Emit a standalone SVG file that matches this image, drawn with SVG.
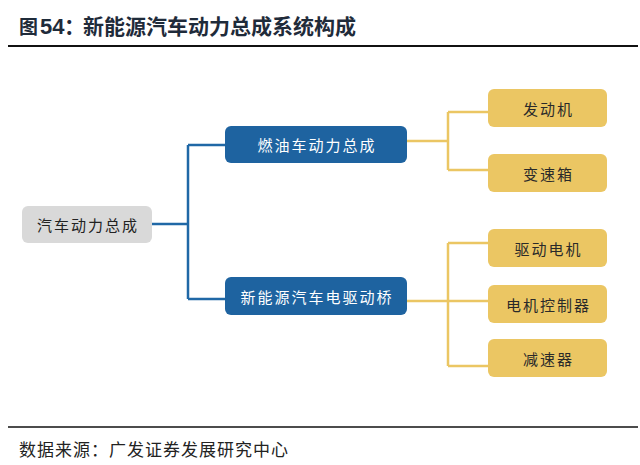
<svg xmlns="http://www.w3.org/2000/svg" width="640" height="465" viewBox="0 0 640 465">
<style>
.cjk{font-family:"Noto Sans CJK SC","Noto Sans",sans-serif;}
.lbl{font-size:15px;letter-spacing:2px;text-anchor:middle;dominant-baseline:central;}
.root rect{fill:#d9d9d9;}
.root text{fill:#222;}
.blue rect{fill:#1e63a0;}
.blue text{fill:#fff;}
.gold rect{fill:#ebc663;}
.gold text{fill:#2a2a2a;}
.cb{fill:none;stroke:#2068a6;stroke-width:2.5;}
.cg{fill:none;stroke:#ebc663;stroke-width:2.5;}
</style>
<rect width="640" height="465" fill="#fff"/>
<g id="title">
<text class="cjk" x="19" y="34" font-size="19" font-weight="bold" fill="#1f2b3a">图</text>
<text x="40" y="34" font-family="Liberation Sans,Arial,sans-serif" font-size="22" font-weight="bold" fill="#1f2b3a">54</text>
<text class="cjk" x="64" y="34" font-size="21" font-weight="bold" fill="#1f2b3a">：</text>
<text class="cjk" x="83" y="34" font-size="21" font-weight="bold" fill="#1f2b3a">新能源汽车动力总成系统构成</text>
</g>
<line x1="8" y1="46" x2="638" y2="46" stroke="#111" stroke-width="2"/>
<g id="connectors">
<path class="cb" d="M152 224 H188 M188 145 V299 M188 145 H226 M188 299 H226"/>
<path class="cg" d="M407 141 H448 M448 112 V170 M448 112 H489 M448 170 H489"/>
<path class="cg" d="M407 301 H448 M448 243 V366 M448 243 H489 M448 301 H489 M448 366 H489"/>
</g>
<g id="root" class="root">
<rect x="22" y="206" width="130" height="37" rx="6"/>
<text class="cjk lbl" x="88" y="224.5">汽车动力总成</text>
</g>
<g id="ice" class="blue">
<rect x="225" y="126" width="182" height="37" rx="6"/>
<text class="cjk lbl" x="317" y="144.5">燃油车动力总成</text>
</g>
<g id="nev" class="blue">
<rect x="225" y="277" width="182" height="38" rx="6"/>
<text class="cjk lbl" x="317" y="296">新能源汽车电驱动桥</text>
</g>
<g id="engine" class="gold">
<rect x="488" y="89" width="119" height="38" rx="6"/>
<text class="cjk lbl" x="548.5" y="108">发动机</text>
</g>
<g id="gearbox" class="gold">
<rect x="488" y="154" width="119" height="38" rx="6"/>
<text class="cjk lbl" x="548.5" y="173">变速箱</text>
</g>
<g id="motor" class="gold">
<rect x="488" y="229" width="119" height="38" rx="6"/>
<text class="cjk lbl" x="548.5" y="248">驱动电机</text>
</g>
<g id="controller" class="gold">
<rect x="488" y="285" width="119" height="38" rx="6"/>
<text class="cjk lbl" x="548.5" y="304">电机控制器</text>
</g>
<g id="reducer" class="gold">
<rect x="488" y="339" width="119" height="38" rx="6"/>
<text class="cjk lbl" x="548.5" y="358">减速器</text>
</g>
<line x1="8" y1="427" x2="638" y2="427" stroke="#111" stroke-width="1.5"/>
<text class="cjk" x="19" y="456" font-size="17" letter-spacing="1" fill="#222">数据来源：广发证券发展研究中心</text>
</svg>
